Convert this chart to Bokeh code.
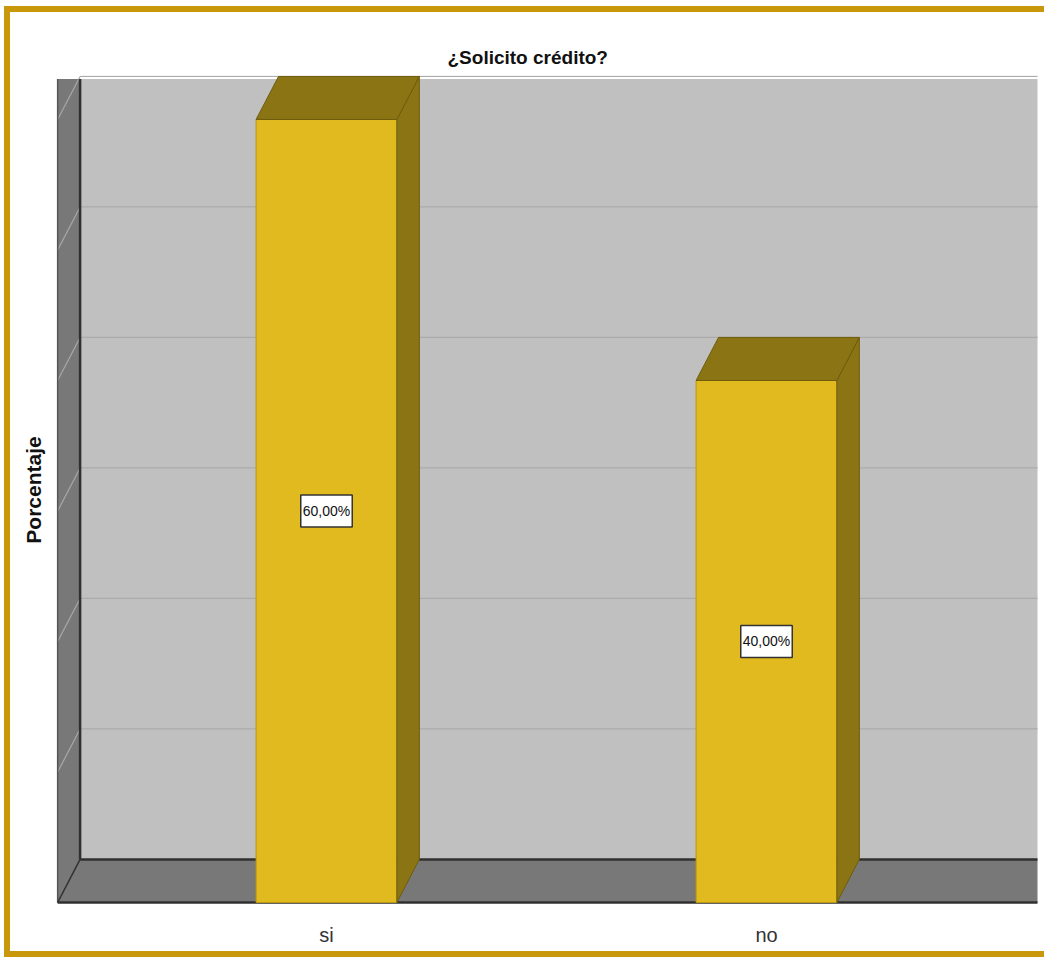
from bokeh.plotting import figure
from bokeh.models import Range1d, FixedTicker
from bokeh.core.properties import value
from bokeh.embed import file_html
from bokeh.resources import INLINE

# ---------------- data ----------------
title_text = "¿Solicito crédito?"
y_label = "Porcentaje"
categories = ["si", "no"]
percent = [60.0, 40.0]
value_labels = ["60,00%", "40,00%"]
grid_values = [10, 20, 30, 40, 50, 60]

# ---------------- geometry / style ----------------
FONT = "Liberation Sans"
W = 0.16        # half bar width (category units)
DX = 0.051      # 3D depth offset, x
DY = 3.3        # 3D depth offset, y (percent units)
X0 = -0.611     # front-left edge of the 3D box
XR = 2.0        # far right (clipped)
YTOP = 63.1     # top of walls

WALL = "#C0C0C0"
SIDE = "#787878"
EDGE = "#303030"
GRID = "#ABABAB"
FRONT = "#E0BA1F"
DARK = "#8A7413"
GOLD = "#C8980A"

p = figure(width=1040, height=951, output_backend="svg", toolbar_location=None,
           x_range=Range1d(-0.6159, 1.6159), y_range=Range1d(-0.153, 63.37),
           min_border_left=45, min_border_right=13, min_border_top=63, min_border_bottom=59,
           styles={"margin-left": "4px", "margin-top": "6px",
                   "border-left": "6px solid " + GOLD, "border-top": "6px solid " + GOLD,
                   "border-bottom": "6px solid " + GOLD})
p.background_fill_color = "white"
p.border_fill_color = "white"
p.outline_line_color = None
p.xgrid.grid_line_color = None
p.ygrid.grid_line_color = None

idx = list(range(len(categories)))

# back wall
p.quad(left=[X0 + DX], right=[XR], bottom=[DY], top=[YTOP], fill_color=WALL, line_color=None)
# back-wall grid lines
p.segment(x0=[X0 + DX] * len(grid_values), x1=[XR] * len(grid_values),
          y0=[g + DY for g in grid_values], y1=[g + DY for g in grid_values],
          line_color=GRID, line_width=1.2)

# left wall
p.patch(x=[X0, X0 + DX, X0 + DX, X0], y=[0, DY, YTOP, YTOP], fill_color=SIDE, line_color=None)
p.segment(x0=[X0 + DX] * len(grid_values), x1=[X0] * len(grid_values),
          y0=[g + DY for g in grid_values], y1=grid_values,
          line_color="#A8A8A8", line_width=1.2)
p.segment(x0=[X0, X0 + DX], x1=[X0, X0 + DX], y0=[0, DY], y1=[YTOP, YTOP],
          line_color=["#555555", EDGE], line_width=[1.5, 2.5])

# floor
p.patch(x=[X0, XR, XR, X0 + DX], y=[0, 0, DY, DY], fill_color=SIDE, line_color=None)
p.segment(x0=[X0, X0 + DX, X0], x1=[XR, XR, X0 + DX], y0=[0, DY, 0], y1=[0, DY, DY],
          line_color=EDGE, line_width=[2.5, 2.5, 1.5])

# bars (front, side, top)
p.quad(left=[i - W for i in idx], right=[i + W for i in idx], bottom=0, top=percent,
       fill_color=FRONT, line_color="#B8980F", line_width=1)
p.patches(xs=[[i + W, i + W + DX, i + W + DX, i + W] for i in idx],
          ys=[[0, DY, v + DY, v] for v in percent],
          fill_color=DARK, line_color="#6E5C0C", line_width=1)
p.patches(xs=[[i - W, i + W, i + W + DX, i - W + DX] for i in idx],
          ys=[[v, v, v + DY, v + DY] for v in percent],
          fill_color=DARK, line_color="#6E5C0C", line_width=1)

# value labels
p.text(x=idx, y=[v / 2 for v in percent], text=value_labels,
       text_align="center", text_baseline="middle",
       text_font=value(FONT), text_font_size="14px", text_color="#111111",
       background_fill_color="white", border_line_color="#333333", border_line_width=1.5,
       padding=(2, 8))

# title
p.title.text = title_text
p.title.align = "left"
p.title.offset = 392
p.title.text_font = FONT
p.title.text_font_size = "19px"
p.title.text_font_style = "bold"
p.title.text_color = "#111111"
p.title.standoff = 15

# x axis (categories)
p.xaxis.ticker = FixedTicker(ticks=idx)
p.xaxis.major_label_overrides = {i: c for i, c in zip(idx, categories)}
p.xaxis.axis_line_color = None
p.xaxis.major_tick_line_color = None
p.xaxis.minor_tick_line_color = None
p.xaxis.major_tick_in = 0
p.xaxis.major_tick_out = 0
p.xaxis.major_label_standoff = 19
p.xaxis.major_label_text_font = FONT
p.xaxis.major_label_text_font_size = "20px"
p.xaxis.major_label_text_color = "#333333"

# y axis (label only)
p.yaxis.ticker = FixedTicker(ticks=[])
p.yaxis.axis_line_color = None
p.yaxis.major_tick_line_color = None
p.yaxis.minor_tick_line_color = None
p.yaxis.major_tick_in = 0
p.yaxis.major_tick_out = 0
p.yaxis.axis_label = y_label
p.yaxis.axis_label_text_font = FONT
p.yaxis.axis_label_text_font_size = "21px"
p.yaxis.axis_label_text_font_style = "bold"
p.yaxis.axis_label_text_color = "#111111"
p.yaxis.axis_label_standoff = 11

open("out.html", "w").write(file_html(p, INLINE))
